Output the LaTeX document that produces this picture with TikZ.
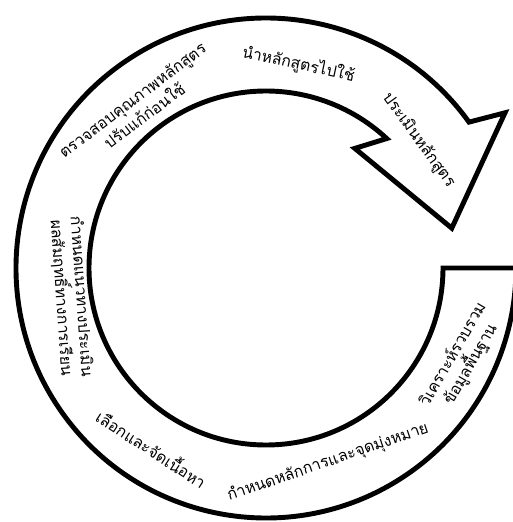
\documentclass[tikz,border=0pt]{standalone}
\usepackage{fontspec}
\newfontfamily\thaifont[Script=Thai]{Loma}
\begin{document}
\begin{tikzpicture}[x=0.02cm, y=0.02cm,
    ring/.style={draw=black, line width=2.8pt, fill=white, line join=miter},
    lbl/.style={font=\thaifont\fontsize{9}{11.5}\selectfont, align=center, inner sep=0pt}
]
\useasboundingbox (0,0) rectangle (512,522);

\begin{scope}[shift={(266,254)}]
% Circular arrow
\coordinate (c) at (0,0);
\draw[ring] (0:177) arc[start angle=0, end angle=-313, radius=177]
    -- (53.4:149) -- (12.1:190) -- (33:285) -- (35.7:250)
    arc[start angle=35.7, end angle=360, radius=250] -- cycle;

% Steps round the cycle
\node[lbl, rotate=-12] (use) at (80.9:206) {นำหลักสูตรไปใช้};
\node[lbl, rotate=-54] (eval) at (39.9:199) {ประเมินหลักสูตร};
\node[lbl, rotate=37] (check) at (128.6:205) {ตรวจสอบคุณภาพหลักสูตร\\ปรับแก้ก่อนใช้};
\node[lbl, rotate=-86] (assess) at (188.5:197) {กำหนดแนวทางประเมิน\\ผลสัมฤทธิ์ทางการเรียน};
\node[lbl, rotate=-33] (content) at (237.7:213) {เลือกและจัดเนื้อหา};
\node[lbl, rotate=19] (aims) at (287.7:204) {กำหนดหลักการและจุดมุ่งหมาย};
\node[lbl, rotate=60] (basic) at (335:216) {วิเคราะห์รวบรวม\\ข้อมูลพื้นฐาน};
\end{scope}

\end{tikzpicture}
\end{document}
